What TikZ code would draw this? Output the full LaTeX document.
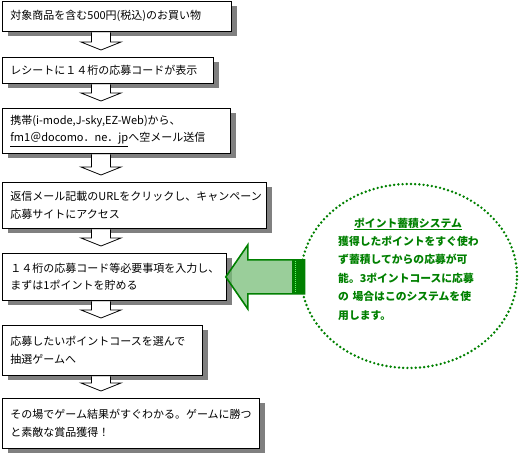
\documentclass[tikz,border=0pt]{standalone}
\usepackage{fontspec}
\setmainfont{Noto Sans CJK JP}[AutoFakeSlant=0.2]
\usetikzlibrary{calc, shadows, shapes.geometric}
\definecolor{notegreen}{RGB}{0,128,0}
\definecolor{arrowfill}{RGB}{120,190,120}
\tikzset{
    stepbox/.style={draw, line width=0.8pt, fill=white, anchor=north west, align=left,
      inner xsep=8pt, inner ysep=0pt, font=\fontsize{11}{17.5}\selectfont,
      drop shadow={shadow xshift=6pt, shadow yshift=-5pt, fill=black!50, opacity=1}},
    flowarrow/.style={draw, line width=0.8pt, fill=white},
    pointarrow/.style={draw=notegreen, line width=1.6pt, fill=arrowfill, fill opacity=0.75},
    notecircle/.style={ellipse, draw=notegreen, line width=2.7pt, dash pattern=on 0pt off 4.2pt,
      line cap=round, minimum width=216pt, minimum height=184pt},
    notetext/.style={text=notegreen, font=\fontsize{10.8}{18.5}\selectfont\bfseries, inner sep=0pt}
}

\begin{document}
\begin{tikzpicture}[x=1pt, y=-1pt]
          \useasboundingbox (0,0) rectangle (521,455);
          % steps
          \node[stepbox, text width=213pt, minimum height=30pt] (s1) at (2,1) {対象商品を含む500円(税込)のお買い物};
          \node[stepbox, text width=195pt, minimum height=26pt] (s2) at (2,57) {レシートに１４桁の応募コードが表示};
          \node[stepbox, text width=212pt, minimum height=45pt] (s3) at (2,108) {携帯(i-mode,J-sky,EZ-Web)から、\\\underline{fm1＠docomo．ne．jp}へ空メール送信};
          \node[stepbox, text width=248pt, minimum height=46pt] (s4) at (2,182) {返信メール記載のURLをクリックし、キャンペーン\\応募サイトにアクセス};
          \node[stepbox, text width=208pt, minimum height=47pt] (s5) at (2,253) {１４桁の応募コード等必要事項を入力し、\\まずは1ポイントを貯める};
          \node[stepbox, text width=184pt, minimum height=50pt] (s6) at (2,325) {応募したいポイントコースを選んで\\抽選ゲームへ};
          \node[stepbox, text width=241pt, minimum height=50pt] (s7) at (2,398) {その場でゲーム結果がすぐわかる。ゲームに勝つ\\と素敵な賞品獲得！};

          \foreach \a/\b in {s1/s2, s2/s3, s3/s4, s4/s5, s5/s6, s6/s7}
            \draw[flowarrow] let \p1=($(\a.south west)+(99,0)$), \p2=(\b.north) in
              (\x1-9.5pt,\y1-0.5pt) -- (\x1-9.5pt,\y2+15pt) -- (\x1-20pt,\y2+15pt) -- (\x1,\y2+7pt)
              -- (\x1+20pt,\y2+15pt) -- (\x1+9.5pt,\y2+15pt) -- (\x1+9.5pt,\y1-0.5pt);

          % point system
          \node[notecircle] (note) at (409,276) {};
          \node[notetext, anchor=base] (title) at (408,227) {\underline{\itshape ポイント蓄積システム}};
          \node[notetext, anchor=base west, text width=150pt, align=left] (body) at (338,245)
            {獲得したポイントをすぐ使わ\\ず蓄積してからの応募が可\\能。3ポイントコースに応募\\の 場合はこのシステムを使\\用します。};

          \draw[pointarrow] let \p1=(s5.east), \p2=(note.west) in
            (\x1-1pt,\y1) -- (\x1+21pt,\y1+32pt) -- (\x1+21pt,\y1+17pt) -- (\x2+5pt,\y1+17pt)
            -- (\x2+5pt,\y1-17pt) -- (\x1+21pt,\y1-17pt) -- (\x1+21pt,\y1-32pt) -- cycle;
          \fill[notegreen] let \p1=(s5.east), \p2=(note.west) in
            (\x2-8pt,\y1+17pt) rectangle (\x2+5pt,\y1-17pt);
          \draw[green!60, line width=0.8pt, dash pattern=on 1pt off 1pt] let \p1=(s5.east), \p2=(note.west) in
            (\x2-4pt,\y1+16pt) -- (\x2-4pt,\y1-16pt);
        \end{tikzpicture}
\end{document}
